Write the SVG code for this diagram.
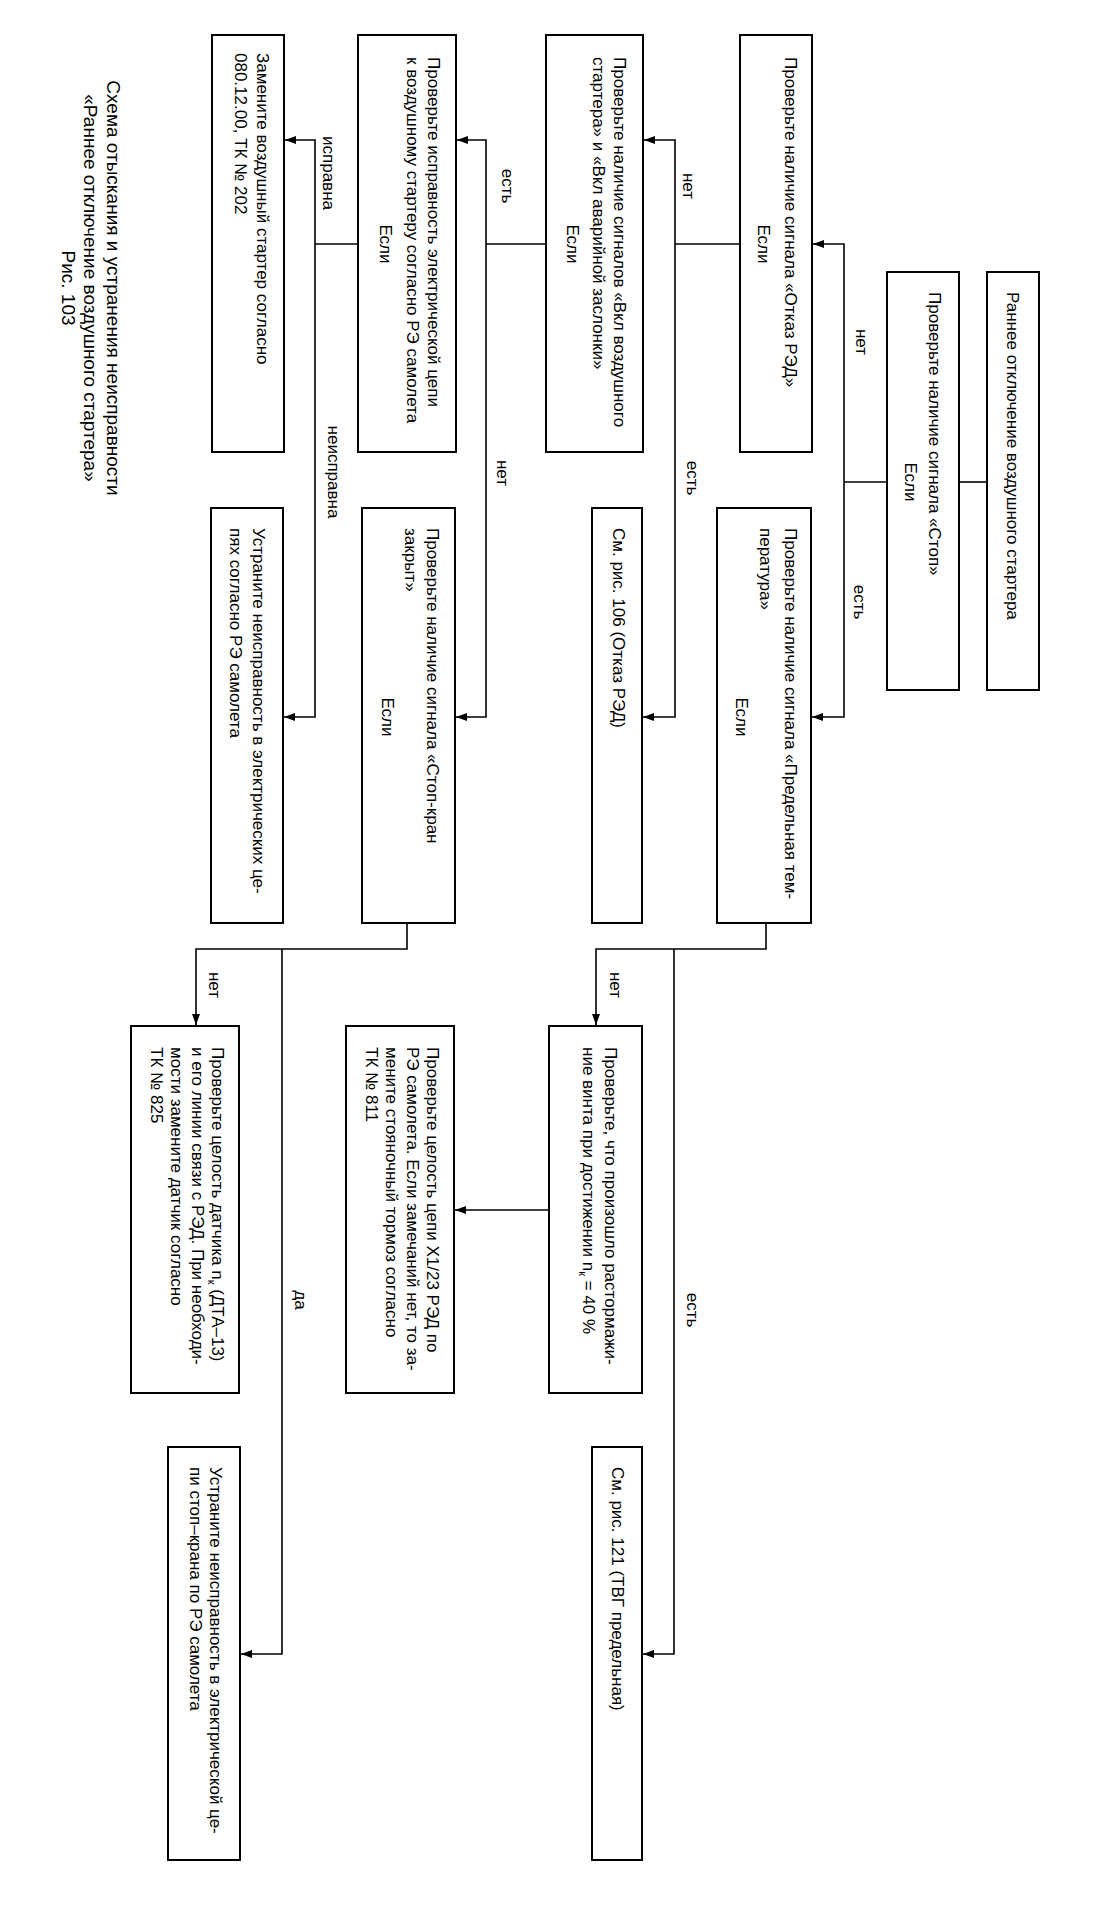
<svg xmlns="http://www.w3.org/2000/svg" width="1095" height="1911" viewBox="0 0 1095 1911">
<defs>
<marker id="arr" markerUnits="userSpaceOnUse" markerWidth="12" markerHeight="8" refX="11" refY="4" orient="auto">
<path d="M0,0 L11,4 L0,8 z" fill="#000"/>
</marker>
<style>
.box{fill:#fff;stroke:#000;stroke-width:2}
.t{font-family:"Liberation Sans",Arial,sans-serif;font-size:17px;fill:#000}
.c{text-anchor:middle}
.cap{font-family:"Liberation Sans",Arial,sans-serif;font-size:19px;fill:#000;text-anchor:middle}
.ln{fill:none;stroke:#000;stroke-width:1.6}
.ar{fill:none;stroke:#000;stroke-width:1.6;marker-end:url(#arr)}
</style>
</defs>
<rect width="1095" height="1911" fill="#fff"/>

<g id="caption">
<text class="cap" transform="rotate(90)" x="288" y="-107">Схема отыскания и устранения неисправности</text>
<text class="cap" transform="rotate(90)" x="288" y="-84">«Раннее отключение воздушного стартера»</text>
<text class="cap" transform="rotate(90)" x="288" y="-62">Рис. 103</text>
</g>

<g id="connectors">
<path class="ln" d="M959,482 H987"/>
<path class="ln" d="M887,482 H844"/>
<path class="ar" d="M844,482 V244 H813"/>
<path class="ar" d="M844,482 V717 H812"/>
<path class="ln" d="M740,244 H675"/>
<path class="ar" d="M675,244 V140 H644"/>
<path class="ar" d="M675,244 V717 H643"/>
<path class="ln" d="M546,244 H486"/>
<path class="ar" d="M486,244 V140 H457"/>
<path class="ar" d="M486,244 V717 H456"/>
<path class="ln" d="M358,244 H315"/>
<path class="ar" d="M315,244 V140 H285"/>
<path class="ar" d="M315,244 V717 H284"/>
<path class="ar" d="M766,923 V949 H596 V1025"/>
<path class="ar" d="M674,949 V1654 H643"/>
<path class="ar" d="M549,1210 H455"/>
<path class="ar" d="M407,923 V949 H196 V1025"/>
<path class="ar" d="M282,949 V1654 H241"/>
<g class="t c">
<text transform="rotate(90)" x="342" y="-856">нет</text>
<text transform="rotate(90)" x="602" y="-854">есть</text>
<text transform="rotate(90)" x="186" y="-683">нет</text>
<text transform="rotate(90)" x="478" y="-687">есть</text>
<text transform="rotate(90)" x="186" y="-502">есть</text>
<text transform="rotate(90)" x="473" y="-497">нет</text>
<text transform="rotate(90)" x="173" y="-323">исправна</text>
<text transform="rotate(90)" x="472" y="-328">неисправна</text>
<text transform="rotate(90)" x="985" y="-610">нет</text>
<text transform="rotate(90)" x="1310" y="-687">есть</text>
<text transform="rotate(90)" x="985" y="-209">нет</text>
<text transform="rotate(90)" x="1300" y="-295">да</text>
</g>
</g>

<g id="n_early">
<rect class="box" x="987" y="272" width="52" height="418"/>
<text class="t" transform="rotate(90)" x="292" y="-1007">Раннее отключение воздушного стартера</text>
</g>

<g id="n_stop">
<rect class="box" x="887" y="272" width="72" height="418"/>
<text class="t" transform="rotate(90)" x="292" y="-929">Проверьте наличие сигнала «Стоп»</text>
<text class="t c" transform="rotate(90)" x="482" y="-905">Если</text>
</g>

<g id="n_red">
<rect class="box" x="740" y="35" width="72" height="417"/>
<text class="t" transform="rotate(90)" x="57" y="-785">Проверьте наличие сигнала «Отказ РЭД»</text>
<text class="t c" transform="rotate(90)" x="244" y="-758">Если</text>
</g>

<g id="n_vkl">
<rect class="box" x="546" y="35" width="97" height="417"/>
<text class="t" transform="rotate(90)" x="57" y="-614">Проверьте наличие сигналов «Вкл воздушного</text>
<text class="t" transform="rotate(90)" x="57" y="-593">стартера» и «Вкл аварийной заслонки»</text>
<text class="t c" transform="rotate(90)" x="244" y="-567">Если</text>
</g>

<g id="n_circuit">
<rect class="box" x="358" y="35" width="98" height="417"/>
<text class="t" transform="rotate(90)" x="57" y="-428">Проверьте исправность электрической цепи</text>
<text class="t" transform="rotate(90)" x="57" y="-407">к воздушному стартеру согласно РЭ самолета</text>
<text class="t c" transform="rotate(90)" x="244" y="-380">Если</text>
</g>

<g id="n_replace">
<rect class="box" x="212" y="35" width="72" height="417"/>
<text class="t" transform="rotate(90)" x="53" y="-257">Замените воздушный стартер согласно</text>
<text class="t" transform="rotate(90)" x="53" y="-235">080.12.00, ТК № 202</text>
</g>

<g id="n_temp">
<rect class="box" x="717" y="508" width="94" height="415"/>
<text class="t" transform="rotate(90)" x="528" y="-785">Проверьте наличие сигнала «Предельная тем-</text>
<text class="t" transform="rotate(90)" x="528" y="-760">пература»</text>
<text class="t c" transform="rotate(90)" x="717" y="-736">Если</text>
</g>

<g id="n_fig106">
<rect class="box" x="592" y="508" width="50" height="415"/>
<text class="t" transform="rotate(90)" x="528" y="-613">См. рис. 106 (Отказ РЭД)</text>
</g>

<g id="n_stopcran">
<rect class="box" x="362" y="508" width="93" height="415"/>
<text class="t" transform="rotate(90)" x="528" y="-427">Проверьте наличие сигнала «Стоп-кран</text>
<text class="t" transform="rotate(90)" x="528" y="-405">закрыт»</text>
<text class="t c" transform="rotate(90)" x="717" y="-382">Если</text>
</g>

<g id="n_fix_el">
<rect class="box" x="211" y="508" width="72" height="415"/>
<text class="t" transform="rotate(90)" x="528" y="-253">Устраните неисправность в электрических це-</text>
<text class="t" transform="rotate(90)" x="528" y="-230">пях согласно РЭ самолета</text>
</g>

<g id="n_brake">
<rect class="box" x="549" y="1026" width="93" height="367"/>
<text class="t" transform="rotate(90)" x="1047" y="-605">Проверьте, что произошло растормажи-</text>
<text class="t" transform="rotate(90)" x="1047" y="-583">ние винта при достижении n<tspan font-size="11" dy="4">к</tspan><tspan dy="-4"> = 40 %</tspan></text>
</g>

<g id="n_x123">
<rect class="box" x="346" y="1026" width="108" height="367"/>
<text class="t" transform="rotate(90)" x="1047" y="-427">Проверьте целость цепи Х1/23 РЭД по</text>
<text class="t" transform="rotate(90)" x="1047" y="-407">РЭ самолета. Если замечаний нет, то за-</text>
<text class="t" transform="rotate(90)" x="1047" y="-386">мените стояночный тормоз согласно</text>
<text class="t" transform="rotate(90)" x="1047" y="-366">ТК № 811</text>
</g>

<g id="n_sensor">
<rect class="box" x="131" y="1026" width="108" height="367"/>
<text class="t" transform="rotate(90)" x="1047" y="-212">Проверьте целость датчика n<tspan font-size="11" dy="4">к</tspan><tspan dy="-4"> (ДТА–13)</tspan></text>
<text class="t" transform="rotate(90)" x="1047" y="-192">и его линии связи с РЭД. При необходи-</text>
<text class="t" transform="rotate(90)" x="1047" y="-171">мости замените датчик согласно</text>
<text class="t" transform="rotate(90)" x="1047" y="-151">ТК № 825</text>
</g>

<g id="n_fig121">
<rect class="box" x="592" y="1447" width="50" height="413"/>
<text class="t" transform="rotate(90)" x="1467" y="-612">См. рис. 121 (ТВГ предельная)</text>
</g>

<g id="n_fix_cran">
<rect class="box" x="168" y="1447" width="72" height="413"/>
<text class="t" transform="rotate(90)" x="1467" y="-210">Устраните неисправность в электрической це-</text>
<text class="t" transform="rotate(90)" x="1467" y="-190">пи стоп–крана по РЭ самолета</text>
</g>
</svg>
